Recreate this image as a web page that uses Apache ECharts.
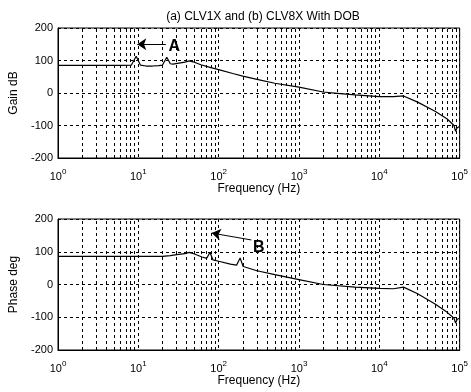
<!DOCTYPE html>
<html>
<head>
<meta charset="utf-8">
<script src="https://cdn.jsdelivr.net/npm/echarts@6/dist/echarts.min.js"></script>
<style>
  html, body { margin: 0; background: #fff; }
  #chart { width: 471px; height: 392px; }
</style>
</head>
<body>
<div id="chart"></div>
<script>
// gain plot (a)
const gainFreq = [1, 3, 6, 8.2, 9.4, 10.6, 12.5, 15, 18, 20, 22.6, 25, 27, 32, 38, 43, 48, 60, 80, 100, 150, 200, 300, 500, 1000, 2000, 3000, 5000, 10000, 15000, 20000, 30000, 50000, 70000, 85000, 89000, 93000, 100000];
const gainDb = [85, 85, 85, 86, 113, 86, 83, 83, 84, 86, 110, 90, 89, 92, 95, 99, 96, 87, 78, 72, 60, 52, 42, 30, 18, 3, -1, -6, -11, -11, -9, -28, -57, -80, -100, -118, -107, -103];

// phase plot (b)
const phaseFreq = [1, 10, 20, 25, 30, 38, 43, 50, 62, 71, 78, 85, 100, 140, 167, 185, 202, 300, 500, 1000, 2000, 5000, 10000, 15000, 20000, 30000, 50000, 70000, 85000, 89000, 93000, 100000];
const phaseDeg = [86, 86, 86, 88, 91, 94, 98, 93, 84, 80, 98, 75, 71, 62, 59, 81, 55, 42, 30, 15, 0, -8, -12, -13, -8, -28, -60, -85, -103, -118, -106, -103];

const yTicks = [-200, -100, 0, 100, 200];
const titleText = '(a) CLV1X and (b) CLV8X With DOB';

// annotation arrows: [from, to] in data coords, and label position
const arrowA = [[22, 150], [9.7, 150]];
const labelA = [28, 143];
const arrowB = [[255, 136], [82, 157]];
const labelB = [315, 113];

const font = 'Liberation Sans, Arial, Helvetica, sans-serif';
const dash = [3, 3];

// minor log grid lines 2..9 x 10^k
const minorLines = [];
for (let k = 0; k < 5; k++) {
  for (let m = 2; m <= 9; m++) minorLines.push({ xAxis: m * Math.pow(10, k) });
}

const zip = (xs, ys) => xs.map((x, i) => [x, ys[i]]);

const makeX = (idx) => ({
  type: 'log',
  logBase: 10,
  gridIndex: idx,
  min: 1,
  max: 100000,
  name: 'Frequency (Hz)',
  nameLocation: 'middle',
  nameGap: 25,
  nameTextStyle: { color: '#000', fontFamily: font, fontSize: 12 },
  axisLine: { show: true, onZero: false, lineStyle: { color: '#000', width: 1 } },
  axisTick: { show: false },
  splitLine: { show: true, lineStyle: { color: '#000', type: dash, width: 1 } },
  axisLabel: {
    margin: 10,
    formatter: (v) => '{b|10}{s|' + Math.round(Math.log10(v)) + '}',
    rich: {
      b: { fontSize: 11, fontFamily: font, color: '#000', verticalAlign: 'bottom' },
      s: { fontSize: 8, fontFamily: font, color: '#000', verticalAlign: 'bottom', padding: [0, 0, 6, 0] }
    }
  }
});

const makeY = (idx, name) => ({
  type: 'value',
  gridIndex: idx,
  min: yTicks[0],
  max: yTicks[yTicks.length - 1],
  interval: 100,
  name: name,
  nameLocation: 'middle',
  nameRotate: 90,
  nameGap: 38,
  nameTextStyle: { color: '#000', fontFamily: font, fontSize: 12 },
  axisLine: { show: true, onZero: false, lineStyle: { color: '#000', width: 1 } },
  axisTick: { show: false },
  splitLine: { show: true, lineStyle: { color: '#000', type: dash, width: 1 } },
  axisLabel: { color: '#000', fontFamily: font, fontSize: 11, margin: 5 }
});

const arrowLine = (a) => ({
  silent: true,
  symbol: ['none', 'arrow'],
  symbolSize: [9, 9],
  label: { show: false },
  lineStyle: { color: '#000', type: 'solid', width: 1 },
  animation: false,
  data: [[{ coord: a[0] }, { coord: a[1] }]]
});

const letter = (pos, txt) => ({
  silent: true,
  symbol: 'circle',
  symbolSize: 1,
  itemStyle: { color: 'rgba(0,0,0,0)' },
  label: { show: true, position: 'inside', formatter: txt, color: '#000', fontFamily: font, fontWeight: 'bold', fontSize: 16 },
  animation: false,
  data: [{ coord: pos }]
});

const minorSeries = (idx) => ({
  type: 'line',
  xAxisIndex: idx,
  yAxisIndex: idx,
  data: [],
  silent: true,
  markLine: {
    silent: true,
    symbol: ['none', 'none'],
    label: { show: false },
    lineStyle: { color: '#000', type: dash, width: 1 },
    animation: false,
    data: minorLines
  }
});

const chart = echarts.init(document.getElementById('chart'));
chart.setOption({
  animation: false,
  backgroundColor: '#fff',
  title: {
    text: titleText,
    left: 258,
    top: 6,
    textAlign: 'center',
    textStyle: { color: '#000', fontFamily: font, fontSize: 12, fontWeight: 'normal' }
  },
  grid: [
    { left: 53, right: 8, top: 28, height: 130, show: true, borderColor: '#000', borderWidth: 1, backgroundColor: 'transparent' },
    { left: 53, right: 8, top: 219, height: 131, show: true, borderColor: '#000', borderWidth: 1, backgroundColor: 'transparent' }
  ],
  xAxis: [makeX(0), makeX(1)],
  yAxis: [makeY(0, 'Gain dB'), makeY(1, 'Phase deg')],
  series: [
    minorSeries(0),
    minorSeries(1),
    {
      name: 'Gain',
      type: 'line',
      xAxisIndex: 0,
      yAxisIndex: 0,
      data: zip(gainFreq, gainDb),
      showSymbol: false,
      symbol: 'none',
      lineStyle: { color: '#000', width: 1.2 },
      markLine: arrowLine(arrowA),
      markPoint: letter(labelA, 'A')
    },
    {
      name: 'Phase',
      type: 'line',
      xAxisIndex: 1,
      yAxisIndex: 1,
      data: zip(phaseFreq, phaseDeg),
      showSymbol: false,
      symbol: 'none',
      lineStyle: { color: '#000', width: 1.2 },
      markLine: arrowLine(arrowB),
      markPoint: letter(labelB, 'B')
    }
  ]
});
</script>
</body>
</html>
